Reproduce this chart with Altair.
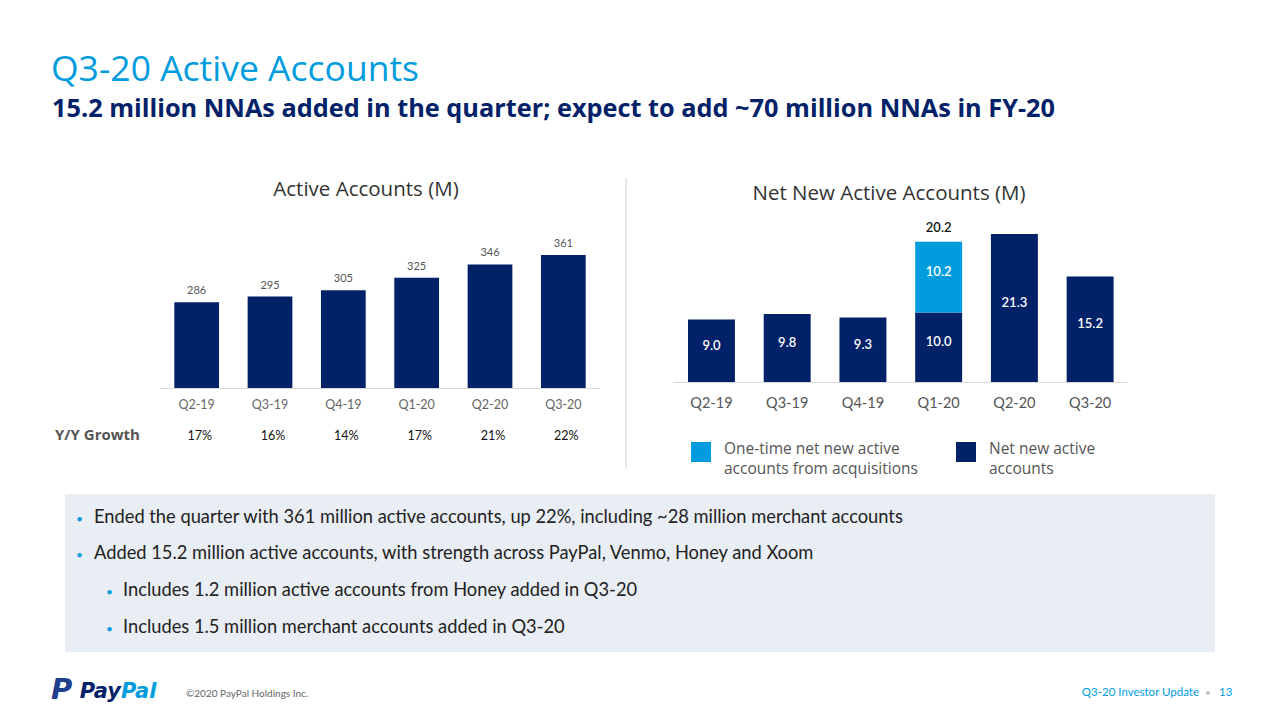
import altair as alt
import pandas as pd

# ---------------- data ----------------
quarters = ["Q2-19", "Q3-19", "Q4-19", "Q1-20", "Q2-20", "Q3-20"]
active_accounts = [286, 295, 305, 325, 346, 361]
yoy_growth = ["17%", "16%", "14%", "17%", "21%", "22%"]
nna_organic = [9.0, 9.8, 9.3, 10.0, 21.3, 15.2]
nna_acquired = [0.0, 0.0, 0.0, 10.2, 0.0, 0.0]
seg_names = ["Net new  active accounts", "One-time net new active accounts from acquisitions"]

title = "Q3-20 Active Accounts"
subtitle = "15.2 million NNAs added in the quarter; expect to add ~70 million NNAs in FY-20"
bullets = [
    "Ended the quarter with 361 million active accounts, up 22%, including ~28 million merchant accounts",
    "Added 15.2 million active accounts, with strength across PayPal, Venmo, Honey and Xoom",
]
sub_bullets = [
    "Includes 1.2 million active accounts from Honey added in Q3-20",
    "Includes 1.5 million merchant accounts added in Q3-20",
]

NAVY = "#012169"
BLUE = "#009cde"
FONT = "Lato"
HFONT = "Open Sans"

left_df = pd.DataFrame({"q": quarters, "v": active_accounts, "g": yoy_growth})

rows = []
for q, o, a in zip(quarters, nna_organic, nna_acquired):
    rows.append(dict(q=q, seg=seg_names[0], lo=0.0, hi=o, mid=o / 2, v=o))
    if a > 0:
        rows.append(dict(q=q, seg=seg_names[1], lo=o, hi=o + a, mid=o + a / 2, v=a))
right_df = pd.DataFrame(rows)
tot_df = pd.DataFrame({"q": quarters, "t": [o + a for o, a in zip(nna_organic, nna_acquired)],
                       "a": nna_acquired})
tot_df = tot_df[tot_df["a"] > 0]


def txt(s, x, y, size, color, weight="normal", align="left", baseline="alphabetic",
        font=FONT, style="normal"):
    return alt.Chart(pd.DataFrame({"t": [s]})).mark_text(
        align=align, baseline=baseline, fontSize=size, color=color,
        fontWeight=weight, font=font, fontStyle=style
    ).encode(x=alt.value(x), y=alt.value(y), text="t:N")


one = pd.DataFrame({"a": [0]})

# ---------------- left chart ----------------
Y_MIN_LEFT = 150
xl = alt.Scale(domain=quarters, range=[160, 600], paddingInner=0.39, paddingOuter=0.195)
yl = alt.Scale(domain=[Y_MIN_LEFT, 361], range=[388, 255], zero=False, nice=False)
XL = alt.X("q:N", scale=xl, axis=None, sort=quarters)

l_bars = alt.Chart(left_df).mark_bar(color=NAVY).encode(
    x=XL, y=alt.Y("v:Q", scale=yl, axis=None), y2=alt.datum(Y_MIN_LEFT))
l_vals = alt.Chart(left_df).mark_text(baseline="middle", dy=-11, fontSize=11, color="#555",
                                      font=FONT).encode(
    x=XL, y=alt.Y("v:Q", scale=yl, axis=None), text="v:Q")
l_q = alt.Chart(left_df).mark_text(baseline="middle", fontSize=12.5, color="#666", font=FONT).encode(
    x=XL, y=alt.value(405), text="q:N")
l_g = alt.Chart(left_df).mark_text(baseline="middle", dx=3, fontSize=12.5, color="#111",
                                   font=FONT).encode(
    x=XL, y=alt.value(436), text="g:N")
l_axis = alt.Chart(one).mark_rule(color="#d9d9d9", strokeWidth=1).encode(
    x=alt.value(160), x2=alt.value(600), y=alt.value(388.5))
left = alt.layer(l_bars, l_vals, l_q, l_g)

# ---------------- right chart ----------------
xr = alt.Scale(domain=quarters, range=[673.6, 1128], paddingInner=0.38, paddingOuter=0.19)
yr = alt.Scale(domain=[0, 21.3], range=[382, 234], nice=False)
XR = alt.X("q:N", scale=xr, axis=None, sort=quarters)
col = alt.Color("seg:N", scale=alt.Scale(domain=seg_names, range=[NAVY, BLUE]), legend=None)

r_bars = alt.Chart(right_df).mark_bar().encode(
    x=XR, y=alt.Y("hi:Q", scale=yr, axis=None), y2="lo:Q", color=col)
r_vals = alt.Chart(right_df).mark_text(baseline="middle", dy=-5, fontSize=13, color="white",
                                       fontWeight=600, font=FONT).encode(
    x=XR, y=alt.Y("mid:Q", scale=yr, axis=None), text=alt.Text("v:Q", format=".1f"))
r_tot = alt.Chart(tot_df).mark_text(baseline="middle", dy=-14, fontSize=13, color="#111",
                                    fontWeight=600, font=FONT).encode(
    x=XR, y=alt.Y("t:Q", scale=yr, axis=None), text=alt.Text("t:Q", format=".1f"))
r_q = alt.Chart(pd.DataFrame({"q": quarters})).mark_text(
    baseline="middle", fontSize=14.5, color="#555", font=FONT).encode(
    x=XR, y=alt.value(404), text="q:N")
r_axis = alt.Chart(one).mark_rule(color="#d9d9d9", strokeWidth=1).encode(
    x=alt.value(673), x2=alt.value(1128), y=alt.value(382.5))
right = alt.layer(r_bars, r_vals, r_tot, r_q)

# ---------------- decorations ----------------
box = alt.Chart(one).mark_rect(color="#e9edf4").encode(
    x=alt.value(65), x2=alt.value(1215), y=alt.value(494), y2=alt.value(652))
divider = alt.Chart(one).mark_rule(color="#e0e0e0", strokeWidth=1.5).encode(
    x=alt.value(626), y=alt.value(178), y2=alt.value(468))
leg1 = alt.Chart(one).mark_rect(color=BLUE).encode(
    x=alt.value(691), x2=alt.value(711), y=alt.value(442), y2=alt.value(462))
leg2 = alt.Chart(one).mark_rect(color=NAVY).encode(
    x=alt.value(956), x2=alt.value(976), y=alt.value(442), y2=alt.value(462))

deco = [
    box, divider, l_axis, r_axis, leg1, leg2,
    txt(title, 51, 81, 35.5, BLUE, font=HFONT),
    txt(subtitle, 52, 117, 25.3, NAVY, weight="bold", font=HFONT),
    txt("Active Accounts (M)", 366, 196, 20.5, "#333", align="center", font=HFONT),
    txt("Net New Active Accounts (M)", 889, 200, 20.5, "#333", align="center", font=HFONT),
    txt("Y/Y Growth", 55, 440, 15, "#555", weight="bold", font=HFONT),
    txt("One-time net new active", 724, 454, 15.5, "#555", font=HFONT),
    txt("accounts from acquisitions", 724, 474, 15.5, "#555", font=HFONT),
    txt("Net new  active", 989, 454, 15.5, "#555", font=HFONT),
    txt("accounts", 989, 474, 15.5, "#555", font=HFONT),
]
yb = [523, 559]
for s, y in zip(bullets, yb):
    deco.append(txt("•", 76, y, 12, BLUE))
    deco.append(txt(s, 94, y, 18.3, "#222"))
ys = [596, 633]
for s, y in zip(sub_bullets, ys):
    deco.append(txt("•", 106, y, 12, BLUE))
    deco.append(txt(s, 123, y, 18.3, "#222"))

# footer
deco += [
    txt("P", 51, 699, 29, "#1f3f8f", weight="bold", style="italic", font="DejaVu Sans"),
    txt("Pay", 121, 698, 21, NAVY, weight="bold", style="italic", align="right", font="DejaVu Sans"),
    txt("Pal", 121, 698, 21, BLUE, weight="bold", style="italic", align="left", font="DejaVu Sans"),
    txt("©2020 PayPal Holdings  Inc.", 186, 697, 10, "#666"),
    txt("Q3-20 Investor Update", 1199, 696, 11.5, BLUE, align="right"),
    txt("•", 1208, 696, 10, "#bbb", align="center"),
    txt("13", 1219, 696, 11.5, BLUE),
]

chart = alt.layer(*deco, left, right).resolve_scale(
    x="independent", y="independent", color="independent"
).properties(
    width=1280, height=720, padding=0, autosize=alt.AutoSizeParams(type="none"),
    background="white"
).configure_view(stroke=None)

chart.save("out.html", embed_options={"renderer": "svg", "actions": False})
